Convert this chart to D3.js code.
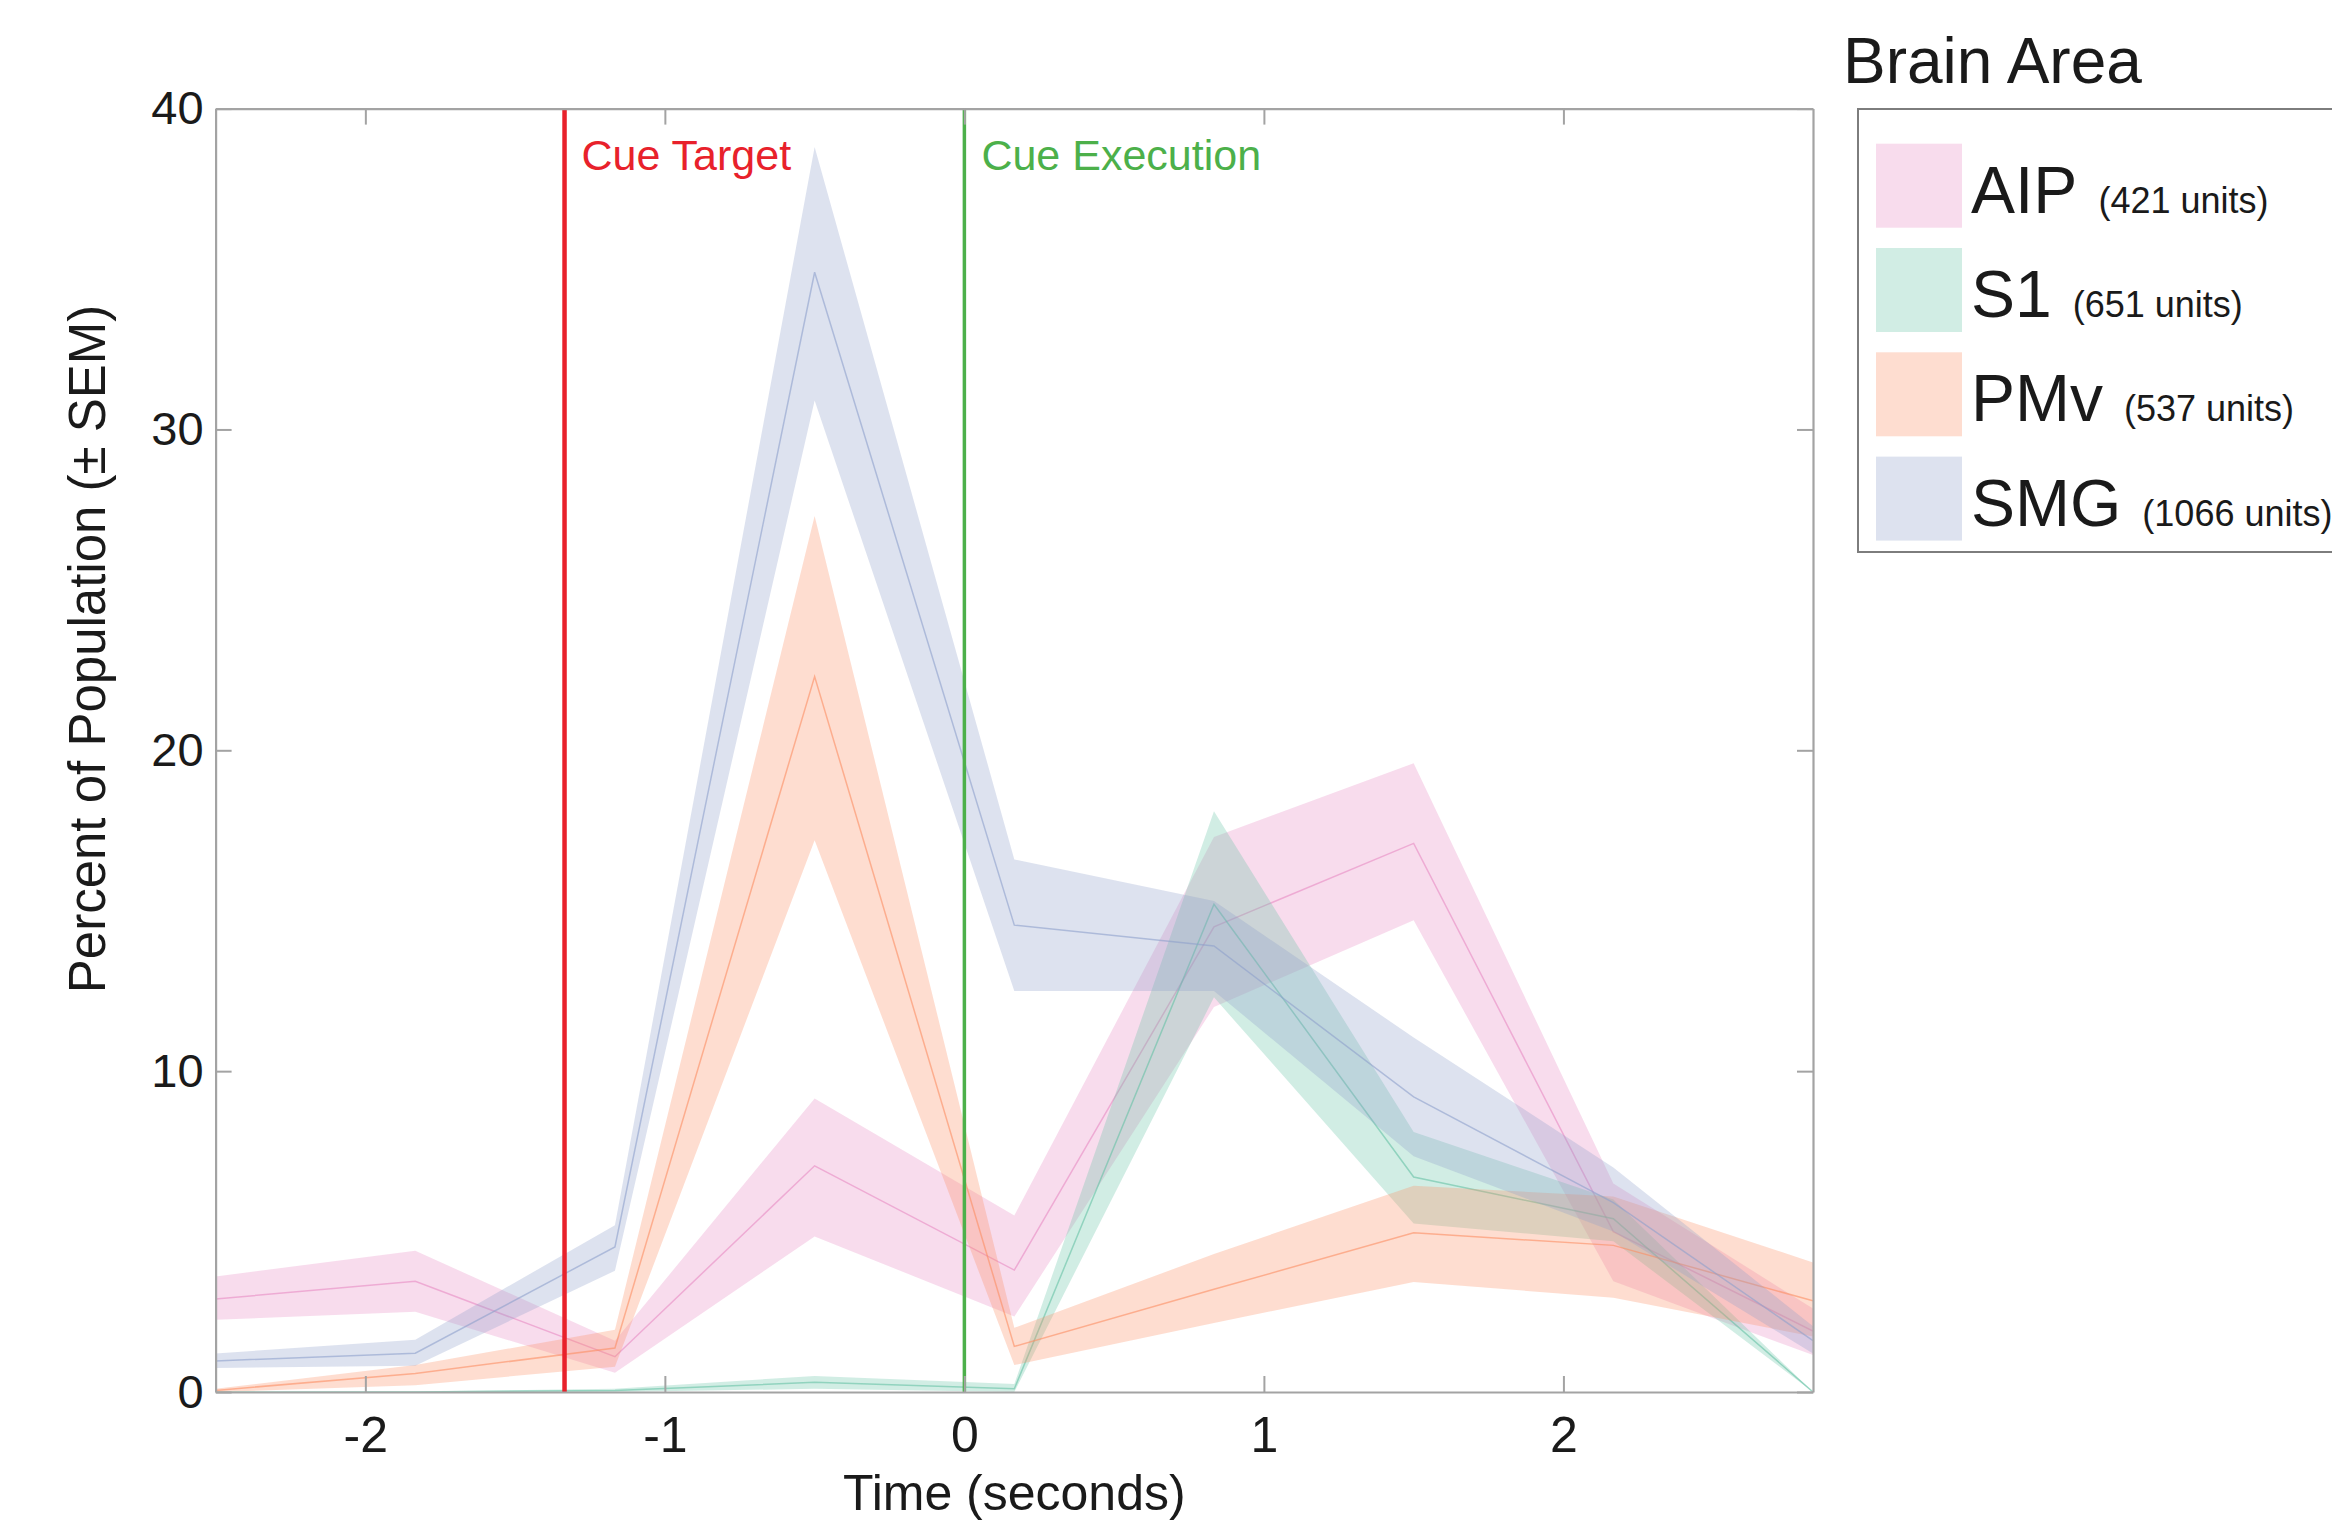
<!DOCTYPE html>
<html>
<head>
<meta charset="utf-8">
<script src="https://cdn.jsdelivr.net/npm/d3@7"></script>
<style>
  html, body { margin: 0; padding: 0; background: #fff; }
  svg { display: block; font-family: "Liberation Sans", Arial, Helvetica, sans-serif; }
</style>
</head>
<body>
<svg id="chart" width="2332" height="1531"></svg>
<script>
// Bin centres (seconds, relative to the execution cue)
const times = [-2.5, -1.8333, -1.1667, -0.5, 0.1667, 0.8333, 1.5, 2.1667, 2.8333];

// Legend entries
const areaNames = ["AIP", "S1", "PMv", "SMG"];
const unitCounts = [421, 651, 537, 1066];
const areaColors = ["#e78ac3", "#66c2a5", "#fc8d62", "#8da0cb"];

// Percent of population tuned, mean and ± SEM bounds
const aipMean  = [2.9, 3.45, 1.1, 7.05, 3.8, 14.5, 17.1, 5.0, 1.9];
const aipLow   = [2.25, 2.5, 0.6, 4.85, 2.35, 12.0, 14.7, 3.45, 1.15];
const aipHigh  = [3.6, 4.4, 1.6, 9.15, 5.5, 17.3, 19.6, 6.5, 2.6];

const s1Mean   = [0, 0, 0.05, 0.3, 0.1, 15.2, 6.7, 5.4, 0];
const s1Low    = [0, 0, 0, 0.1, 0, 12.3, 5.25, 4.7, 0];
const s1High   = [0, 0.02, 0.1, 0.5, 0.25, 18.1, 8.1, 6.0, 0];

const pmvMean  = [0.05, 0.58, 1.37, 22.3, 1.42, 3.2, 4.96, 4.57, 2.84];
const pmvLow   = [0, 0.21, 0.79, 17.2, 0.84, 2.15, 3.43, 2.94, 1.73];
const pmvHigh  = [0.1, 0.84, 1.94, 27.3, 2.0, 4.3, 6.43, 6.09, 4.04];

const smgMean  = [0.97, 1.21, 4.52, 34.9, 14.55, 13.9, 9.2, 5.9, 1.6];
const smgLow   = [0.75, 0.82, 3.78, 30.9, 12.5, 12.5, 7.35, 5.0, 1.2];
const smgHigh  = [1.2, 1.63, 5.2, 38.8, 16.6, 15.3, 11.05, 7.0, 2.05];

// Axis ticks and task events
const xTicks = [-2, -1, 0, 1, 2];
const yTicks = [0, 10, 20, 30, 40];
const events = [
  { label: "Cue Target", time: -1.335, color: "#e8212b", width: 4.5 },
  { label: "Cue Execution", time: 0, color: "#4cb04a", width: 3.5 }
];

const series = [
  { mean: aipMean, low: aipLow, high: aipHigh },
  { mean: s1Mean,  low: s1Low,  high: s1High },
  { mean: pmvMean, low: pmvLow, high: pmvHigh },
  { mean: smgMean, low: smgLow, high: smgHigh }
].map((s, i) => ({ ...s, name: areaNames[i], units: unitCounts[i], color: areaColors[i] }));

const svg = d3.select("#chart");
const plot = { left: 215.6, right: 1813, top: 108.6, bottom: 1392 };

const x = d3.scaleLinear().domain([-2.5, 2.8333]).range([plot.left, plot.right]);
const y = d3.scaleLinear().domain([0, 40]).range([plot.bottom, plot.top]);

svg.append("rect").attr("width", 2332).attr("height", 1531).attr("fill", "#fff");

svg.append("defs").append("clipPath").attr("id", "plot-clip")
  .append("rect")
  .attr("x", plot.left).attr("y", plot.top)
  .attr("width", plot.right - plot.left).attr("height", plot.bottom - plot.top);

const g = svg.append("g").attr("clip-path", "url(#plot-clip)");

const band = d3.area()
  .x((d, i) => x(times[i]))
  .y0(d => y(d[0]))
  .y1(d => y(d[1]));

const meanLine = d3.line()
  .x((d, i) => x(times[i]))
  .y(d => y(d));

series.forEach(s => {
  const pts = s.low.map((v, i) => [v, s.high[i]]);
  g.append("path")
    .attr("d", band(pts))
    .attr("fill", s.color)
    .attr("fill-opacity", 0.3)
    .attr("stroke", "none");
  g.append("path")
    .attr("d", meanLine(s.mean))
    .attr("fill", "none")
    .attr("stroke", s.color)
    .attr("stroke-opacity", 0.6)
    .attr("stroke-width", 1.5);
});

// Event markers
events.forEach(ev => {
  svg.append("line")
    .attr("x1", x(ev.time)).attr("x2", x(ev.time))
    .attr("y1", plot.top).attr("y2", plot.bottom)
    .attr("stroke", ev.color)
    .attr("stroke-width", ev.width);
  svg.append("text")
    .attr("x", x(ev.time) + 17)
    .attr("y", 170)
    .attr("fill", ev.color)
    .attr("font-size", 43)
    .text(ev.label);
});

// Axes (ticks point inward, box on all four sides)
const axisColor = "#a3a3a3";
const tickLen = 16;

const bottomAxis = svg.append("g")
  .attr("transform", `translate(0,${plot.bottom})`)
  .call(d3.axisBottom(x).tickValues(xTicks).tickSizeInner(-tickLen).tickSizeOuter(0)
    .tickPadding(24).tickFormat(d => String(d)));
const topAxis = svg.append("g")
  .attr("transform", `translate(0,${plot.top})`)
  .call(d3.axisTop(x).tickValues(xTicks).tickSizeInner(-tickLen).tickSizeOuter(0).tickFormat(""));
const leftAxis = svg.append("g")
  .attr("transform", `translate(${plot.left},0)`)
  .call(d3.axisLeft(y).tickValues(yTicks).tickSizeInner(-tickLen).tickSizeOuter(0)
    .tickPadding(12).tickFormat(d => String(d)));
const rightAxis = svg.append("g")
  .attr("transform", `translate(${plot.right},0)`)
  .call(d3.axisRight(y).tickValues(yTicks).tickSizeInner(-tickLen).tickSizeOuter(0).tickFormat(""));

[bottomAxis, topAxis, leftAxis, rightAxis].forEach(a => {
  a.select(".domain").attr("stroke", axisColor).attr("stroke-width", 2.2);
  a.selectAll(".tick line").attr("stroke", axisColor).attr("stroke-width", 2);
  a.selectAll(".tick text").attr("fill", "#1a1a1a")
    .attr("font-family", "\"Liberation Sans\", Arial, sans-serif");
});
bottomAxis.selectAll(".tick text").attr("font-size", 50);
leftAxis.selectAll(".tick text").attr("font-size", 47);

// Axis titles
svg.append("text")
  .attr("x", (plot.left + plot.right) / 2)
  .attr("y", 1510)
  .attr("text-anchor", "middle")
  .attr("font-size", 50)
  .attr("fill", "#1a1a1a")
  .text("Time (seconds)");

svg.append("text")
  .attr("transform", "translate(105,649) rotate(-90)")
  .attr("text-anchor", "middle")
  .attr("font-size", 51)
  .attr("fill", "#1a1a1a")
  .text("Percent of Population (\u00b1 SEM)");

// Legend
svg.append("text")
  .attr("x", 1843).attr("y", 83)
  .attr("font-size", 64)
  .attr("fill", "#1a1a1a")
  .text("Brain Area");

svg.append("rect")
  .attr("x", 1858).attr("y", 109)
  .attr("width", 600).attr("height", 443)
  .attr("fill", "#fff")
  .attr("stroke", "#7d7d7d")
  .attr("stroke-width", 2);

const legendRow = d3.scaleLinear().domain([0, 1]).range([143.7, 248]);
series.forEach((s, i) => {
  const top = legendRow(i);
  svg.append("rect")
    .attr("x", 1876).attr("y", top)
    .attr("width", 86).attr("height", 84)
    .attr("fill", s.color).attr("fill-opacity", 0.3);
  const t = svg.append("text")
    .attr("x", 1971).attr("y", top + 69)
    .attr("fill", "#1a1a1a");
  t.append("tspan").attr("font-size", 66).text(s.name);
  t.append("tspan").attr("font-size", 36).attr("dx", 21).text(`(${s.units} units)`);
});
</script>
</body>
</html>
